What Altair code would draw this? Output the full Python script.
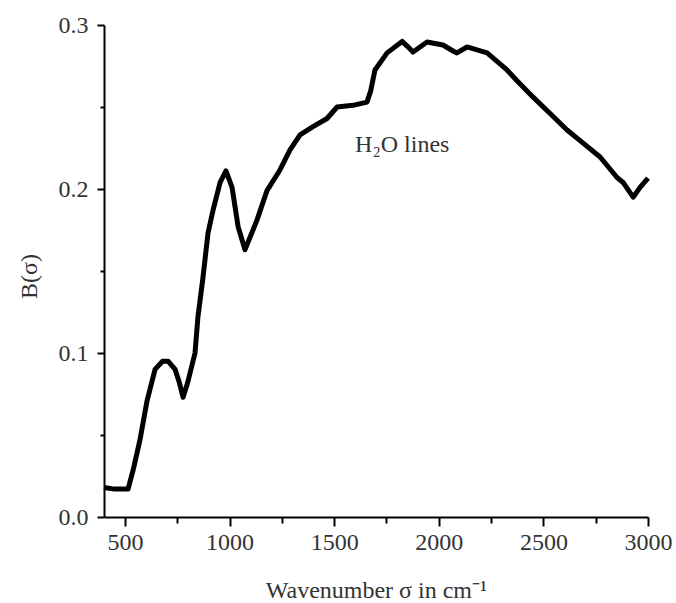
import altair as alt
import pandas as pd

wavenumber = [400, 450, 515, 540, 572, 606, 644, 680, 706, 740, 760, 778, 800, 835, 849, 873, 897, 921,
              955, 983, 1012, 1041, 1074, 1131, 1179, 1241, 1289, 1337, 1399, 1466, 1514, 1590, 1657,
              1675, 1695, 1753, 1825, 1850, 1877, 1944, 2020, 2070, 2087, 2135, 2231, 2326, 2374,
              2451, 2532, 2613, 2690, 2771, 2852, 2881, 2929, 2962, 3000]
b_sigma = [0.018, 0.017, 0.017, 0.029, 0.047, 0.071, 0.090, 0.095, 0.095, 0.090, 0.082, 0.073, 0.082,
           0.100, 0.122, 0.146, 0.173, 0.187, 0.204, 0.211, 0.201, 0.177, 0.163, 0.181, 0.199, 0.2116,
           0.2238, 0.233, 0.238, 0.243, 0.250, 0.251, 0.253, 0.260, 0.2726, 0.283, 0.290, 0.287, 0.2835,
           0.2896, 0.2878, 0.284, 0.283, 0.2866, 0.283, 0.2726, 0.2660, 0.256, 0.246, 0.236, 0.228,
           0.2195, 0.207, 0.204, 0.195, 0.201, 0.2067]

x_ticks = [500, 750, 1000, 1250, 1500, 1750, 2000, 2250, 2500, 2750, 3000]
y_ticks = [0.0, 0.05, 0.1, 0.15, 0.2, 0.25, 0.3]

ann_x = [1600]
ann_y = [0.2226]
ann_text = ["H\u2082O lines"]

FONT = "Liberation Serif"
LABEL_COLOR = "#333333"

df = pd.DataFrame({"wn": wavenumber, "b": b_sigma})
ann = pd.DataFrame({"x": ann_x, "y": ann_y, "t": ann_text})

xscale = alt.Scale(domain=[400, 3000], nice=False, zero=False)
yscale = alt.Scale(domain=[0, 0.3], nice=False, zero=True)

x_major_test = "datum.value % 500 === 0"
y_major_test = "abs(datum.value * 10 - round(datum.value * 10)) < 0.001"

x_axis = alt.Axis(values=x_ticks, format="d", title="Wavenumber σ in cm\u207b\u00b9", grid=False,
                  tickSize={"condition": {"test": x_major_test, "value": 9}, "value": 6},
                  tickWidth=2, tickColor="black", domainColor="black", domainWidth=2,
                  labelExpr=f"({x_major_test}) ? datum.label : ''",
                  labelFont=FONT, labelFontSize=24, labelColor=LABEL_COLOR, labelPadding=4,
                  labelFlush=False, labelOverlap=False,
                  titleFont=FONT, titleFontSize=24, titleFontWeight="normal", titleColor=LABEL_COLOR,
                  titleBaseline="alphabetic", titleY=80)
y_axis = alt.Axis(values=y_ticks, format=".1f", title="B(σ)", grid=False,
                  tickSize={"condition": {"test": y_major_test, "value": 7}, "value": 4},
                  tickWidth=2, tickColor="black", domainColor="black", domainWidth=2,
                  labelExpr=f"({y_major_test}) ? datum.label : ''",
                  labelFont=FONT, labelFontSize=24, labelColor=LABEL_COLOR, labelPadding=9,
                  labelFlush=False, labelOverlap=False,
                  titleFont=FONT, titleFontSize=24, titleFontWeight="normal", titleColor=LABEL_COLOR,
                  titleAngle=-90, titleBaseline="alphabetic", titleAlign="center",
                  titleX=-68, titleY=251)

line = alt.Chart(df).mark_line(color="black", strokeWidth=5, strokeJoin="round").encode(
    x=alt.X("wn:Q", scale=xscale, axis=x_axis),
    y=alt.Y("b:Q", scale=yscale, axis=y_axis),
)

label = alt.Chart(ann).mark_text(font=FONT, fontSize=24, color=LABEL_COLOR, align="left",
                                 baseline="alphabetic").encode(
    x="x:Q",
    y="y:Q",
    text="t:N",
)

chart = alt.layer(line, label).properties(
    width=544, height=492, autosize="none",
    padding={"left": 104, "top": 25, "right": 28, "bottom": 86},
).configure(background="white", view=alt.ViewConfig(stroke=None))

chart.save("out.html", embed_options={"renderer": "svg", "actions": False})
